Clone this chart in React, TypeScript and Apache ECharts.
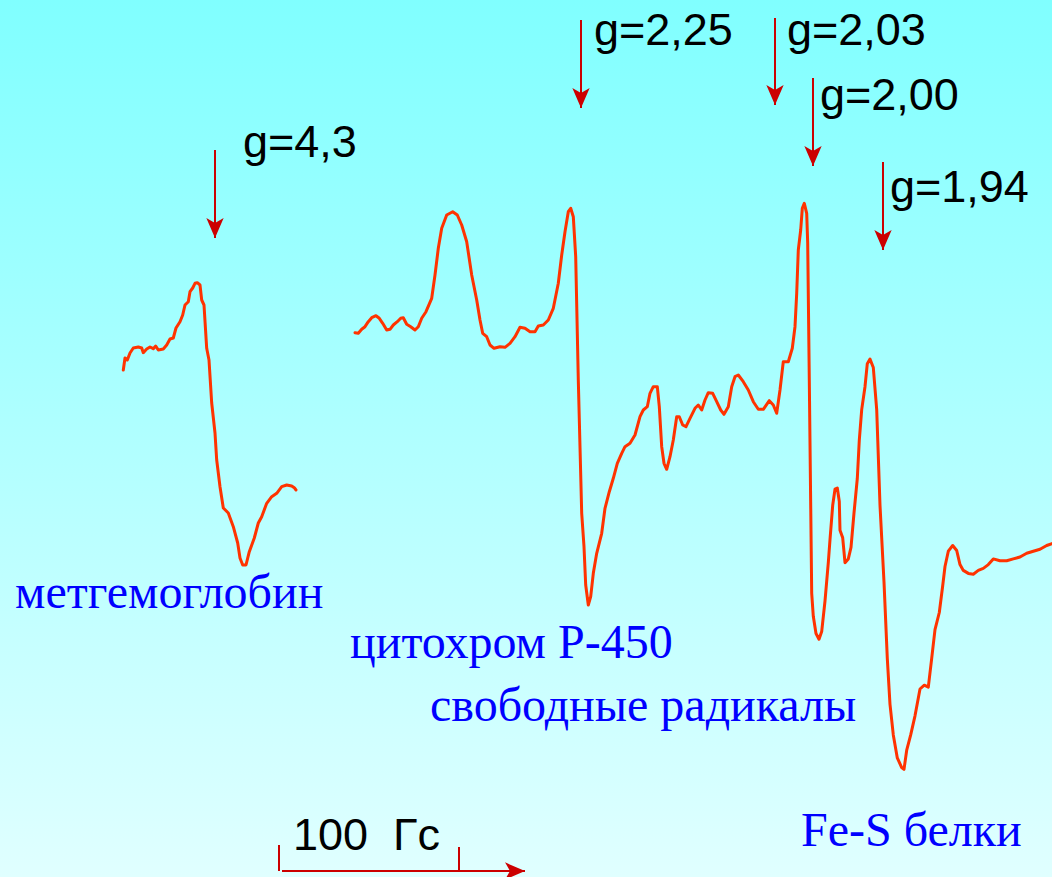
import React, { useEffect, useRef } from "react";
import * as echarts from "echarts";

// Field position (x, horizontal units of the recording) and signal (y, vertical units, downward)
const methemoglobinX = [123.3, 125, 127.3, 130, 133.3, 138.3, 141.7, 143.3, 146.7, 150, 153.3, 155.7, 158.3, 163.3, 166.7, 170, 173.3, 176, 180, 182.7, 185, 188.3, 190, 192.7, 195, 197.3, 200, 201.7, 204, 206.7, 209, 211.7, 215, 216.7, 220, 223.3, 228.3, 233.3, 237.7, 240, 242.7, 246, 249.3, 254.3, 258.3, 261.7, 266.7, 271.7, 276.7, 281.7, 286.7, 291.7, 294.3, 296];
const methemoglobinY = [370, 358, 360, 353, 348, 347, 348, 352.7, 349, 347, 348.7, 346, 350, 349, 345, 339, 338, 328, 321.7, 315, 305, 301.7, 291.7, 288, 283.3, 282.7, 285, 300, 305, 348.3, 360, 403, 433, 460, 486.7, 508, 513, 526.7, 543, 558, 565, 565, 551.7, 538, 523, 516.7, 503.3, 496.7, 493.3, 486.7, 485, 486, 487.7, 490];

const spectrumX = [355, 358.3, 361.7, 365, 368.3, 371.7, 376, 379.3, 382.7, 386.7, 390, 393.3, 397.3, 400.7, 403.3, 406.7, 410.7, 415, 418.3, 421.7, 426, 431.7, 435, 438.3, 441.7, 446.7, 452.7, 457.3, 461.7, 466.7, 471.7, 476.7, 480, 482.7, 486.7, 490, 494, 500, 505, 510, 515, 520, 525, 530, 535, 538.3, 543.3, 548.3, 553.3, 558.3, 561.7, 565, 568.3, 570.7, 573.3, 575.7, 578.3, 581.7, 584, 585.7, 588.3, 590.7, 593.3, 596.7, 601.7, 605, 609.3, 613.3, 617.3, 621.7, 625, 630, 635, 640, 643.3, 647.3, 650, 653.3, 657.3, 659.3, 661.7, 664, 666.7, 670, 673.3, 676.7, 679.3, 682.7, 686, 690, 695, 698.3, 701.7, 705, 708.3, 712.7, 716.7, 720.7, 724, 728.3, 731.7, 735, 738.3, 743.3, 748.3, 753.3, 758.3, 763.3, 769.3, 773.3, 776.7, 780, 783.3, 788.3, 792.3, 795, 796.7, 798.3, 800.7, 802.3, 804.3, 806.7, 807.7, 809.3, 811.7, 813.3, 816, 819, 821.7, 825, 828.3, 830, 832.7, 835, 837.3, 839.3, 840, 842.7, 845, 848.3, 851, 854, 857.3, 859.3, 861.7, 865, 867.3, 870, 873.3, 876.7, 880, 884, 887.3, 890, 893.3, 897.3, 901.7, 904, 906.7, 910.7, 915, 920, 924.3, 928.3, 931.7, 935, 939.3, 942.7, 945, 948.3, 952.7, 956.7, 960, 963.3, 968.3, 973.3, 978.3, 983.3, 988.3, 993.3, 1000, 1006.7, 1013.3, 1020, 1026.7, 1033.3, 1040, 1046.7, 1052];
const spectrumY = [332.7, 333.3, 329.3, 326.7, 321.7, 317.7, 315.7, 318.3, 323.3, 330, 329.3, 325, 321.7, 318.3, 317.7, 324.3, 326.7, 330, 326.7, 318.3, 311.7, 298.3, 275, 248.3, 228.3, 215, 211.7, 215, 225, 241.7, 275, 300, 320, 333.3, 336.7, 345, 348.3, 346.7, 347.3, 343.3, 336.7, 327.3, 328.3, 331.7, 331.7, 326, 325, 320, 308.3, 283.3, 255, 231.7, 211.7, 208.3, 216.7, 256.7, 380, 513.3, 546.7, 585, 605, 596.7, 573.3, 553.3, 533.3, 508.3, 491.7, 478.3, 463.3, 453.3, 446.7, 443.3, 435, 416.7, 410, 406.7, 393.3, 386.7, 386.7, 406.7, 446.7, 463.3, 469.3, 456.7, 440, 416.7, 416.7, 425, 426.7, 418.3, 408.3, 405, 410, 400, 392.7, 393.3, 401.7, 410, 414.3, 406.7, 386.7, 376.7, 375, 381.7, 390, 401.7, 409.3, 409.3, 400.7, 405, 413.3, 390, 361.7, 361.7, 348.3, 326.7, 293.3, 250, 230, 208.3, 203.3, 213.3, 243.3, 380, 593.3, 616.3, 633.5, 639.2, 631.6, 601, 562.7, 539.7, 505.3, 489.2, 488, 501.5, 530.2, 537.8, 562.7, 558.9, 547.4, 513, 478.5, 440.2, 409.6, 386.7, 363.7, 359.1, 367.5, 409.6, 505.3, 581.8, 658.4, 704.3, 734.9, 757.9, 767.5, 769.4, 750.2, 734.9, 715.8, 689, 685.2, 687.1, 658.4, 629.7, 612.5, 585.7, 566.5, 551.2, 545.5, 550.5, 564.6, 570.4, 573.4, 574.2, 570.4, 568.4, 564.6, 558.9, 560.8, 560.8, 558.9, 557, 553.2, 551.2, 549.3, 545.5, 543.6];

// g-factor markers
const gLabels = ["g=4,3", "g=2,25", "g=2,03", "g=2,00", "g=1,94"];
const gArrowX = [215, 581, 775, 813, 883];
const gArrowTop = [150, 20, 18, 78, 162];
const gArrowTip = [238, 108, 105, 166, 250];
const gLabelX = [243, 594, 787, 820, 890];
const gLabelBaseline = [157, 45, 45, 110, 202];

// species labels
const speciesLabels = ["метгемоглобин", "цитохром Р-450", "свободные радикалы", "Fe-S белки"];
const speciesX = [15, 350, 430, 801];
const speciesBaseline = [607, 657, 720, 845];

// scale bar
const scaleLabel = "100  Гс";
const scaleStart = 282;
const scaleTickLeft = 279;
const scaleTickRight = 459;
const scaleEnd = 525;
const scaleY = 871;

export default function App() {
  const ref = useRef<HTMLDivElement>(null);
  useEffect(() => {
    if (!ref.current) return;
    const chart = echarts.init(ref.current, undefined, { renderer: "svg" });
    const red = "#CC0000";
    const curve = "#FF3300";
    const arrowLines = gArrowX.map((x, i) => [
      { coord: [x, gArrowTop[i]], symbol: "none" },
      { coord: [x, gArrowTip[i]], symbol: "arrow" },
    ]);
    const scaleLines = [
      [{ coord: [scaleStart, scaleY], symbol: "none" }, { coord: [scaleEnd, scaleY], symbol: "arrow" }],
      [{ coord: [scaleTickLeft, scaleY - 26], symbol: "none" }, { coord: [scaleTickLeft, scaleY], symbol: "none" }],
      [{ coord: [scaleTickRight, scaleY - 24], symbol: "none" }, { coord: [scaleTickRight, scaleY], symbol: "none" }],
    ];
    const sans = '45px "Liberation Sans", Arial, sans-serif';
    const serif = '48px "Liberation Serif", "Times New Roman", serif';
    const graphics: any[] = [];
    gLabels.forEach((t, i) => {
      graphics.push({
        type: "text",
        style: { text: t, x: gLabelX[i], y: gLabelBaseline[i] - 16, font: sans, fill: "#000", textVerticalAlign: "middle" },
      });
    });
    speciesLabels.forEach((t, i) => {
      graphics.push({
        type: "text",
        style: { text: t, x: speciesX[i], y: speciesBaseline[i] - 16, font: serif, fill: "#0000FF", textVerticalAlign: "middle" },
      });
    });
    graphics.push({
      type: "text",
      style: { text: scaleLabel, x: 293, y: 850 - 16, font: sans, fill: "#000", textVerticalAlign: "middle" },
    });

    chart.setOption({
      animation: false,
      backgroundColor: new echarts.graphic.LinearGradient(0, 0, 0, 1, [
        { offset: 0, color: "#80FFFF" },
        { offset: 1, color: "#E0FFFF" },
      ]),
      grid: { left: 0, right: 0, top: 0, bottom: 0, containLabel: false },
      xAxis: { type: "value", min: 0, max: 1052, show: false },
      yAxis: { type: "value", min: 0, max: 877, inverse: true, show: false },
      series: [
        {
          type: "line",
          name: "метгемоглобин",
          data: methemoglobinX.map((x, i) => [x, methemoglobinY[i]]),
          showSymbol: false,
          symbol: "none",
          clip: false,
          lineStyle: { color: curve, width: 3, join: "round", cap: "round" },
          silent: true,
          markLine: {
            silent: true,
            animation: false,
            symbolSize: [13, 20],
            lineStyle: { color: red, width: 2, type: "solid" },
            itemStyle: { color: red },
            label: { show: false },
            emphasis: { disabled: true },
            data: [...arrowLines, ...scaleLines] as any,
          },
        },
        {
          type: "line",
          name: "спектр",
          data: spectrumX.map((x, i) => [x, spectrumY[i]]),
          showSymbol: false,
          symbol: "none",
          clip: false,
          lineStyle: { color: curve, width: 3, join: "round", cap: "round" },
          silent: true,
        },
      ],
      graphic: graphics,
    });
    return () => chart.dispose();
  }, []);
  return <div ref={ref} style={{ position: "fixed", left: 0, top: 0, width: 1052, height: 877 }} />;
}
